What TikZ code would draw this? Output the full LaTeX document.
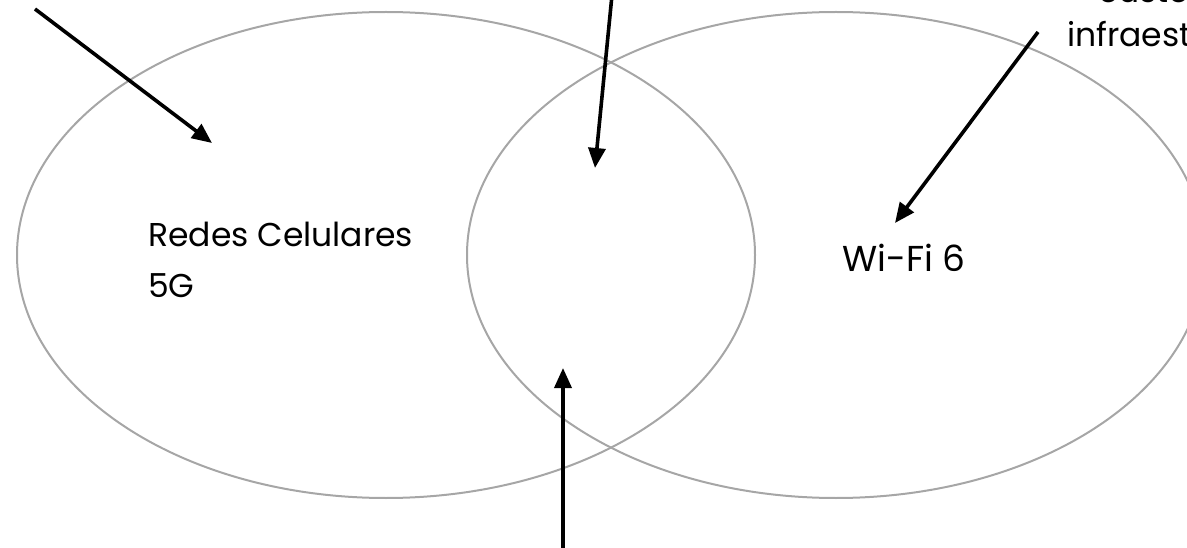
\documentclass[tikz,border=0pt]{standalone}
\usepackage{fontspec}
\setmainfont{Poppins}
\usetikzlibrary{arrows.meta}

\tikzset{
	conjunto/.style={draw=gray!70, line width=2pt},
	seta/.style={line width=3.6pt, -{Triangle[length=20pt,width=17pt]}},
	rotulo/.style={inner sep=0pt, align=left, font=\fontsize{33}{51}\selectfont}
}

\begin{document}
\begin{tikzpicture}[x=1pt,y=-1pt]

	% area visivel
	\clip (0,0) rectangle (1187,548);

	% conjuntos
	\draw[conjunto] (386,255) ellipse [x radius=369, y radius=243];
	\draw[conjunto] (836,255) ellipse [x radius=369, y radius=243];

	% rotulos
	\node[rotulo, anchor=base west] (cel) at (148,298) {Redes Celulares\\5G};
	\node[rotulo, anchor=base west, font=\fontsize{36}{44}\selectfont] (wifi) at (842,272) {Wi-Fi 6};
	\node[rotulo, anchor=base west] (custo) at (1098,3) {custo};
	\node[rotulo, anchor=base west] (infra) at (1067,47) {infraestrutura};

	% setas
	\coordinate (a1) at (35,9);
	\coordinate (b1) at (212,143);
	\coordinate (a2) at (612,-5);
	\coordinate (b2) at (595,168);
	\coordinate (a3) at (1038,32);
	\coordinate (b3) at (895,223);
	\coordinate (a4) at (563,560);
	\coordinate (b4) at (563,368);
	\draw[seta] (a1) -- (b1);
	\draw[seta] (a2) -- (b2);
	\draw[seta] (a3) -- (b3);
	\draw[seta] (a4) -- (b4);
\end{tikzpicture}
\end{document}
